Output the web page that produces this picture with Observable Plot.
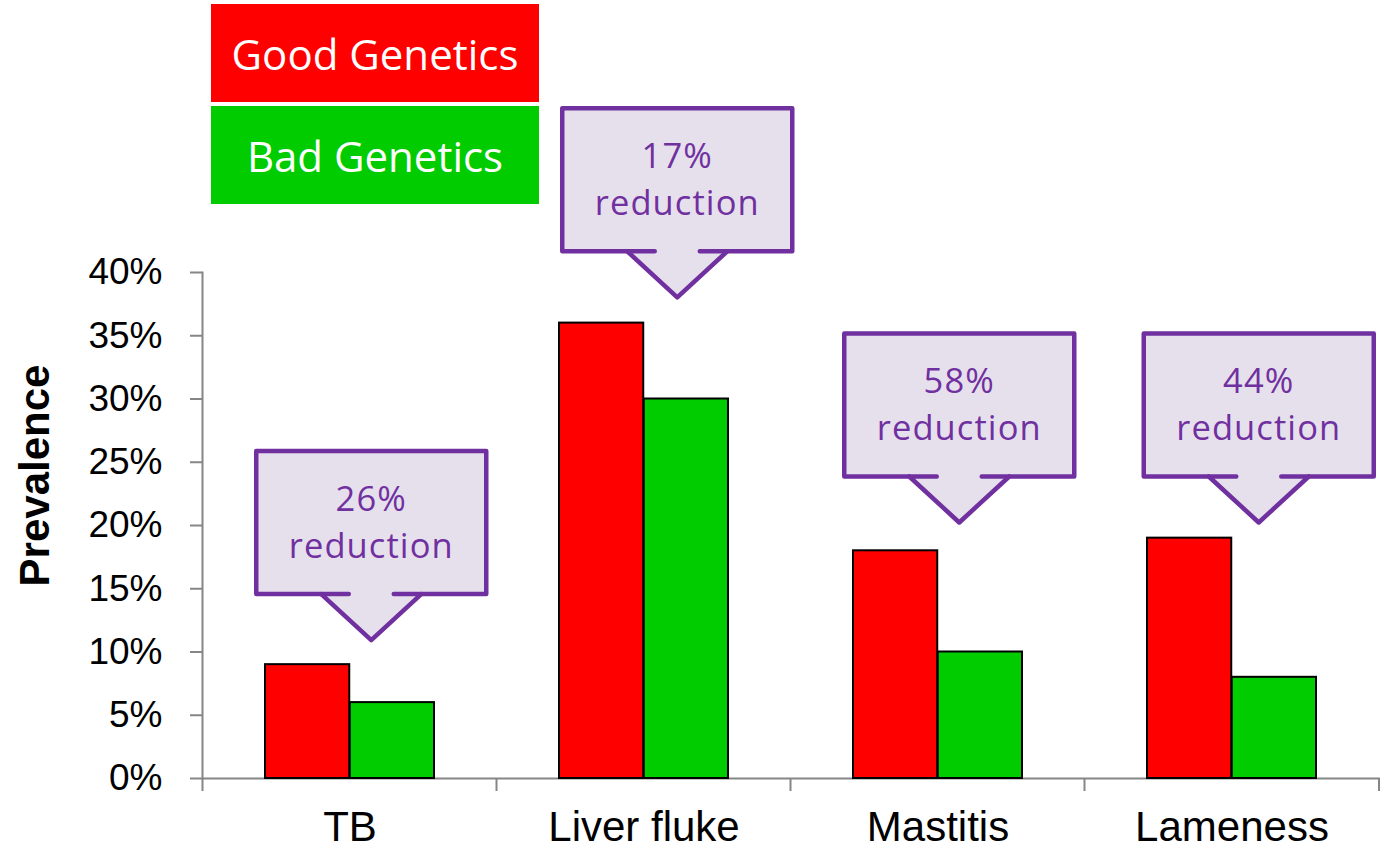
<!DOCTYPE html>
<html>
<head>
<meta charset="utf-8">
<script src="https://cdn.jsdelivr.net/npm/d3@7"></script>
<script src="https://cdn.jsdelivr.net/npm/@observablehq/plot@0.6"></script>
<style>
  html, body { margin: 0; padding: 0; background: #ffffff; }
  #wrap { position: relative; width: 1390px; height: 850px; overflow: hidden; }
  #chart { position: absolute; left: 0; top: 0; }
  .legend-item { position: absolute; left: 211px; width: 328px; height: 98px; color: #ffffff;
    font-family: "Open Sans", sans-serif; font-size: 42px; display: flex; align-items: center; justify-content: center; }
</style>
</head>
<body>
<div id="wrap">
  <div id="chart"></div>
  <div class="legend-item" id="lg0" style="top:4px; background:#FF0000;"></div>
  <div class="legend-item" id="lg1" style="top:106px; background:#00CC00;"></div>
</div>
<script>
// ---- data ----
const categories = ["TB", "Liver fluke", "Mastitis", "Lameness"];
const series = ["Good Genetics", "Bad Genetics"];
const goodValues = [0.09, 0.36, 0.18, 0.19];
const badValues = [0.06, 0.30, 0.10, 0.08];
const reductionLabels = ["26%", "17%", "58%", "44%"];
const calloutAnchorValues = [0.109, 0.380, 0.202, 0.202];
const yTicks = [0, 0.05, 0.10, 0.15, 0.20, 0.25, 0.30, 0.35, 0.40];
const yLabel = "Prevalence";

// ---- layout / style ----
const W = 1390, H = 850, mL = 202, mR = 10, mT = 272, mB = 72;
const padInner = 0.4244;
const step = (W - mL - mR) / categories.length;
const bw = step * (1 - padInner);
const colors = ["#FF0000", "#00CC00"];
const axisGray = "#868686";
const purple = "#7030A0";
const lavender = "#E6E0EC";
const calloutDx = [21.5, 33.5, 21.5, 27];

document.getElementById("lg0").textContent = series[0];
document.getElementById("lg1").textContent = series[1];

const table = [];
categories.forEach((c, i) => {
  table.push({category: c, series: series[0], value: goodValues[i]});
  table.push({category: c, series: series[1], value: badValues[i]});
});

const plot = Plot.plot({
  width: W, height: H,
  marginLeft: mL, marginRight: mR, marginTop: mT, marginBottom: mB,
  style: {fontFamily: "'Liberation Sans', Arial, sans-serif", background: "transparent", overflow: "visible"},
  x: {domain: categories, paddingInner: padInner, paddingOuter: padInner / 2, axis: null},
  y: {domain: [0, 0.40], axis: null},
  marks: [
    Plot.ruleY([0], {stroke: axisGray, strokeWidth: 2}),
    Plot.frame({anchor: "left", stroke: axisGray, strokeWidth: 2}),
    Plot.axisY({ticks: yTicks, tickFormat: d3.format(".0%"), tickSize: 12, tickPadding: 28,
      fontSize: 37, stroke: axisGray, strokeWidth: 2, fill: "black", label: null}),
    Plot.axisX({tickSize: 0, tickPadding: 33, fontSize: 42, fill: "black", label: null}),
    Plot.text([yLabel], {frameAnchor: "left", textAnchor: "middle", lineAnchor: "middle",
      dx: -167, dy: -50, rotate: -90, fontSize: 42, fontWeight: "bold", fill: "black"}),
    Plot.barY(table.filter(d => d.series === series[0]),
      {x: "category", y: "value", fill: colors[0], stroke: "black", strokeWidth: 2, insetRight: bw / 2}),
    Plot.barY(table.filter(d => d.series === series[1]),
      {x: "category", y: "value", fill: colors[1], stroke: "black", strokeWidth: 2, insetLeft: bw / 2})
  ]
});
document.getElementById("chart").appendChild(plot);

const xs = plot.scale("x"), ys = plot.scale("y");
const svg = d3.select(plot);

// category boundary ticks
const y0 = ys.apply(0);
const bounds = categories.map(c => xs.apply(c) + bw / 2 - step / 2);
bounds.push(xs.apply(categories[categories.length - 1]) + bw / 2 + step / 2);
svg.append("g").selectAll("line").data(bounds).join("line")
  .attr("x1", d => d).attr("x2", d => d).attr("y1", y0).attr("y2", y0 + 13)
  .attr("stroke", axisGray).attr("stroke-width", 2);

// callouts
const boxW = 230, boxH = 143, tipH = 46, triHalf = 50, gapHalf = 22.5;
const gC = svg.append("g");
categories.forEach((c, i) => {
  const cx = xs.apply(c) + bw / 2 + calloutDx[i];
  const tip = ys.apply(calloutAnchorValues[i]);
  const bottom = tip - tipH, top = bottom - boxH;
  const left = cx - boxW / 2, right = cx + boxW / 2;
  gC.append("path")
    .attr("d", `M${left},${top}H${right}V${bottom}H${cx + triHalf}L${cx},${tip}L${cx - triHalf},${bottom}H${left}Z`)
    .attr("fill", lavender).attr("stroke", "none");
  gC.append("path")
    .attr("d", `M${cx - gapHalf},${bottom}H${left}V${top}H${right}V${bottom}H${cx + gapHalf}`)
    .attr("fill", "none").attr("stroke", purple).attr("stroke-width", 4.5)
    .attr("stroke-linecap", "round").attr("stroke-linejoin", "round");
  gC.append("path")
    .attr("d", `M${cx - triHalf},${bottom}L${cx},${tip}L${cx + triHalf},${bottom}`)
    .attr("fill", "none").attr("stroke", purple).attr("stroke-width", 4.5)
    .attr("stroke-linecap", "round").attr("stroke-linejoin", "round");
  [[reductionLabels[i], 60], ["reduction", 107]].forEach(([s, off]) => {
    gC.append("text").attr("text-anchor", "middle").attr("fill", purple)
      .attr("font-family", "'Open Sans', sans-serif").attr("font-size", 34.5)
      .attr("letter-spacing", 1.1)
      .attr("x", cx).attr("y", top + off).text(s);
  });
});
</script>
</body>
</html>
